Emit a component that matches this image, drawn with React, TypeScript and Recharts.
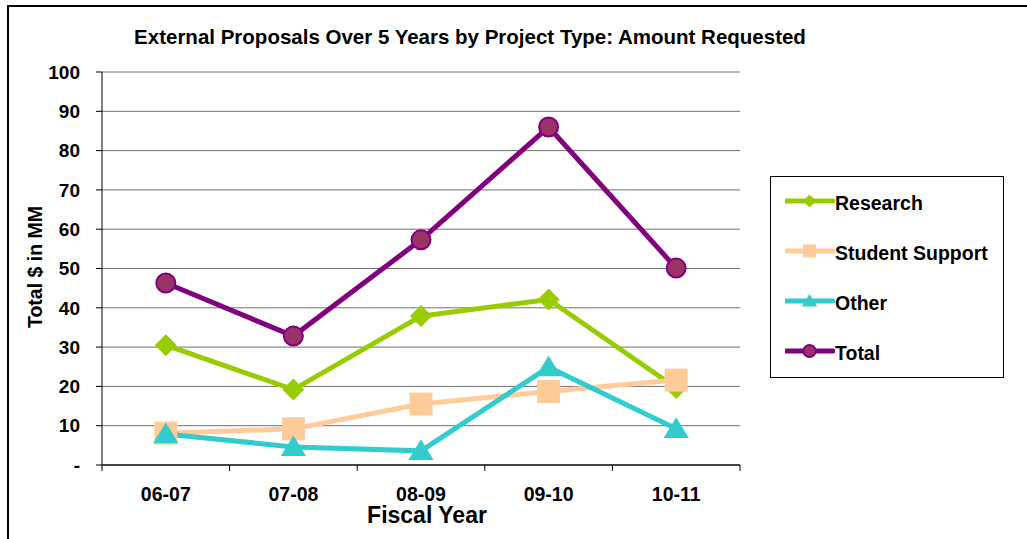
import React from "react";
import { LineChart, Line, XAxis, YAxis, CartesianGrid } from "recharts";

const categories = ["06-07", "07-08", "08-09", "09-10", "10-11"];
const research = [30.5, 19.2, 37.9, 42.1, 19.6];
const studentSupport = [8.1, 9.2, 15.5, 18.7, 21.6];
const other = [7.9, 4.6, 3.6, 24.9, 9.2];
const total = [46.3, 32.8, 57.3, 86.0, 50.1];
const yTicks = [0, 10, 20, 30, 40, 50, 60, 70, 80, 90, 100];

const FONT = "'Liberation Sans', Arial, sans-serif";

const data = categories.map((c, i) => ({
  cat: c,
  research: research[i],
  studentSupport: studentSupport[i],
  other: other[i],
  total: total[i],
}));

type MarkerKind = "diamond" | "square" | "triangle" | "circle";

const series: { key: string; name: string; color: string; fill: string; marker: MarkerKind }[] = [
  { key: "research", name: "Research", color: "#99CC00", fill: "#99CC00", marker: "diamond" },
  { key: "studentSupport", name: "Student Support", color: "#FFCC99", fill: "#FFCC99", marker: "square" },
  { key: "other", name: "Other", color: "#33CCCC", fill: "#33CCCC", marker: "triangle" },
  { key: "total", name: "Total", color: "#800080", fill: "#993366", marker: "circle" },
];

function Marker({ kind, cx, cy, s, color, fill }: { kind: MarkerKind; cx: number; cy: number; s: number; color: string; fill: string }) {
  if (cx == null || cy == null || isNaN(cx) || isNaN(cy)) return null;
  if (kind === "diamond") {
    return <polygon points={`${cx},${cy - s} ${cx + s},${cy} ${cx},${cy + s} ${cx - s},${cy}`} fill={fill} stroke={color} strokeWidth={1} />;
  }
  if (kind === "square") {
    return <rect x={cx - s} y={cy - s} width={2 * s} height={2 * s} fill={fill} stroke="none" />;
  }
  if (kind === "triangle") {
    return <polygon points={`${cx},${cy - s} ${cx + s * 1.1},${cy + s * 0.8} ${cx - s * 1.1},${cy + s * 0.8}`} fill={fill} stroke="none" />;
  }
  return <circle cx={cx} cy={cy} r={s} fill={fill} stroke={color} strokeWidth={2} />;
}

const markerSize: Record<MarkerKind, number> = { diamond: 10.5, square: 11.5, triangle: 11.5, circle: 9.5 };
const legendMarkerSize: Record<MarkerKind, number> = { diamond: 6, square: 6.5, triangle: 7, circle: 6 };

function XTick(props: any) {
  const { x, y, payload, index, visibleTicksCount } = props;
  const off = payload && payload.offset ? payload.offset : 0;
  const isLast = index === (visibleTicksCount ?? categories.length) - 1;
  return (
    <g>
      <line x1={x - off} x2={x - off} y1={y} y2={y + 6} stroke="#000" strokeWidth={1} />
      {isLast && <line x1={x + off} x2={x + off} y1={y} y2={y + 6} stroke="#000" strokeWidth={1} />}
      <text x={x} y={y + 36} textAnchor="middle" fontFamily={FONT} fontWeight="bold" fontSize={19.5} fill="#000">
        {payload.value}
      </text>
    </g>
  );
}

export default function App() {
  return (
    <div style={{ position: "absolute", left: 0, top: 0, width: 1027, height: 539, background: "#fff", fontFamily: FONT }}>
      <div style={{ position: "absolute", left: 7, top: 5, width: 1027 - 7, height: 539 - 5, borderLeft: "2px solid #000", borderTop: "2px solid #000", boxSizing: "border-box" }} />
      <div style={{ position: "absolute", left: 0, top: 25, width: 940, textAlign: "center", fontWeight: "bold", fontSize: 20.5, lineHeight: "24px", color: "#000", whiteSpace: "nowrap" }}>
        External Proposals Over 5 Years by Project Type: Amount Requested
      </div>
      <div style={{ position: "absolute", left: 0, top: 0 }}>
        <LineChart width={1027} height={539} data={data} margin={{ top: 72, right: 287, bottom: 14, left: 0 }}>
          <CartesianGrid vertical={false} stroke="#707070" strokeWidth={1} />
          <XAxis
            dataKey="cat"
            scale="band"
            interval={0}
            height={60}
            tickLine={false}
            tickSize={0}
            tickMargin={0}
            axisLine={{ stroke: "#444", strokeWidth: 2 }}
            tick={<XTick />}
          />
          <YAxis
            domain={[0, 100]}
            ticks={yTicks}
            interval={0}
            width={102}
            tickSize={6}
            tickMargin={16}
            tickLine={{ stroke: "#000" }}
            axisLine={{ stroke: "#000" }}
            tickFormatter={(v: number) => (v === 0 ? "-" : String(v))}
            tick={{ fontSize: 19, fontWeight: "bold", fill: "#000", fontFamily: FONT }}
          />
          <YAxis yAxisId="r" orientation="right" domain={[0, 100]} width={0} tick={false} tickLine={false} axisLine={{ stroke: "#888", strokeWidth: 2 }} />
          {series.map((s) => (
            <Line
              key={s.key}
              dataKey={s.key}
              name={s.name}
              stroke={s.color}
              strokeWidth={5}
              isAnimationActive={false}
              dot={(p: any) => (
                <Marker key={`${s.key}-${p.index}`} kind={s.marker} cx={p.cx} cy={p.cy} s={markerSize[s.marker]} color={s.color} fill={s.fill} />
              )}
              activeDot={false}
            />
          ))}
        </LineChart>
      </div>
      <div style={{ position: "absolute", left: 0, top: 501, width: 854, textAlign: "center", fontWeight: "bold", fontSize: 23, color: "#000", lineHeight: "28px" }}>
        Fiscal Year
      </div>
      <div
        style={{
          position: "absolute",
          left: 35,
          top: 267,
          transform: "translate(-50%, -50%) rotate(-90deg)",
          whiteSpace: "nowrap",
          fontWeight: "bold",
          fontSize: 19.5,
          lineHeight: "22px",
          color: "#000",
        }}
      >
        Total $ in MM
      </div>
      <div style={{ position: "absolute", left: 770, top: 176, width: 234, height: 202, border: "1.5px solid #000", boxSizing: "border-box" }}>
        {series.map((s, i) => (
          <div key={s.key} style={{ position: "absolute", left: 14, top: 12 + i * 50, height: 24, display: "flex", alignItems: "center", whiteSpace: "nowrap" }}>
            <svg width={50} height={24} style={{ display: "block" }}>
              <line x1={1} x2={48} y1={12} y2={12} stroke={s.color} strokeWidth={5} strokeLinecap="round" />
              <Marker kind={s.marker} cx={24.5} cy={12} s={legendMarkerSize[s.marker]} color={s.color} fill={s.fill} />
            </svg>
            <span style={{ fontWeight: "bold", fontSize: 19.5, color: "#000", marginLeft: 0, marginTop: 4 }}>{s.name}</span>
          </div>
        ))}
      </div>
    </div>
  );
}
